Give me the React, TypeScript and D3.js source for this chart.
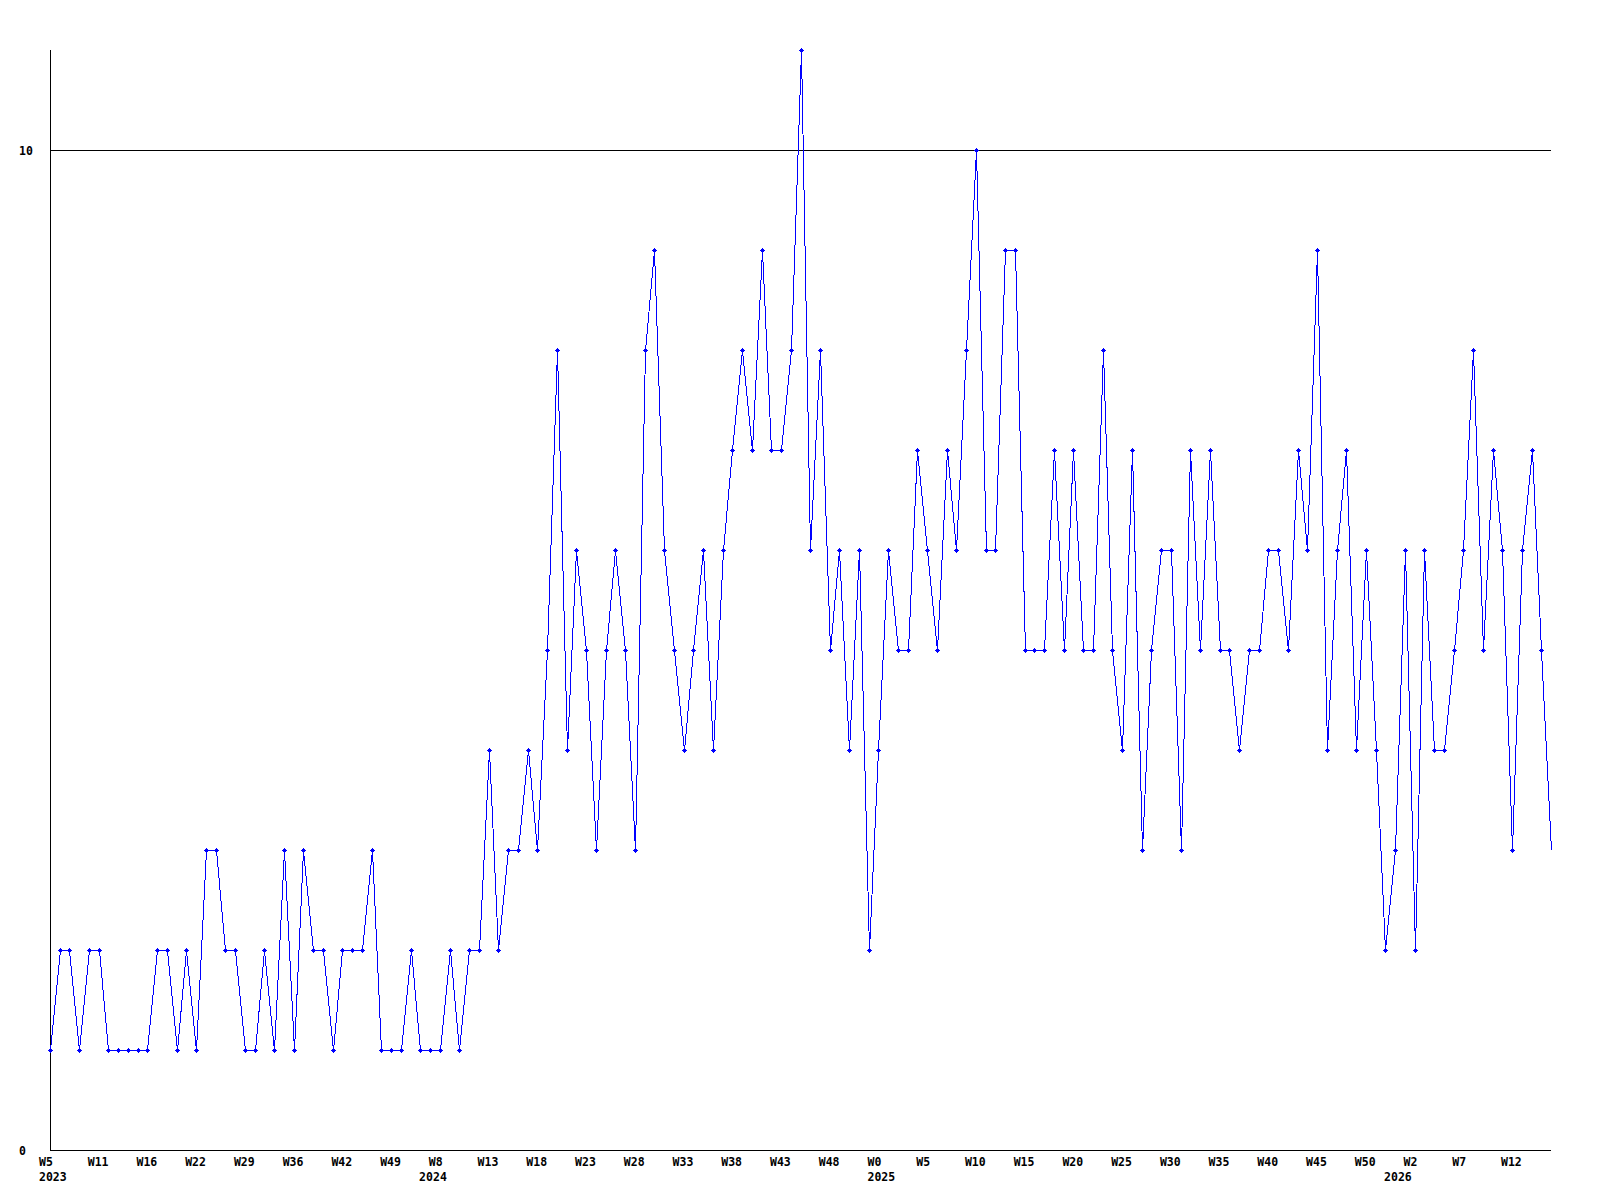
import React from "react";
import * as d3 from "d3";

const values: number[] = [
  1, 2, 2, 1, 2, 2, 1, 1, 1, 1,
  1, 2, 2, 1, 2, 1, 3, 3, 2, 2,
  1, 1, 2, 1, 3, 1, 3, 2, 2, 1,
  2, 2, 2, 3, 1, 1, 1, 2, 1, 1,
  1, 2, 1, 2, 2, 4, 2, 3, 3, 4,
  3, 5, 8, 4, 6, 5, 3, 5, 6, 5,
  3, 8, 9, 6, 5, 4, 5, 6, 4, 6,
  7, 8, 7, 9, 7, 7, 8, 11, 6, 8,
  5, 6, 4, 6, 2, 4, 6, 5, 5, 7,
  6, 5, 7, 6, 8, 10, 6, 6, 9, 9,
  5, 5, 5, 7, 5, 7, 5, 5, 8, 5,
  4, 7, 3, 5, 6, 6, 3, 7, 5, 7,
  5, 5, 4, 5, 5, 6, 6, 5, 7, 6,
  9, 4, 6, 7, 4, 6, 4, 2, 3, 6,
  2, 6, 4, 4, 5, 6, 8, 5, 7, 6,
  3, 6, 7, 5, 3,
];

const weekLabels: string[] = [
  "W5", "W11", "W16", "W22", "W29", "W36", "W42", "W49",
  "W8", "W13", "W18", "W23", "W28", "W33", "W38", "W43", "W48",
  "W0", "W5", "W10", "W15", "W20", "W25", "W30", "W35", "W40", "W45", "W50",
  "W2", "W7", "W12",
];
const weekLabelStep = 5;

const yearLabels: string[] = ["2023", "2024", "2025", "2026"];
const yearIndex: number[] = [0, 39, 85, 138];

const yTicks: number[] = [0, 10];
const gridValues: number[] = [10];

const W = 1600;
const H = 1200;
const left = 50;
const right = 1551;
const top = 50;
const bottom = 1150;
const FONT = "'DejaVu Sans Mono', 'Liberation Mono', monospace";
const BLUE = "#0000ff";

export default function App() {
  const idx = values.map((_, i) => i);
  const x = d3.scaleLinear().domain([0, values.length - 1]).range([left, right]);
  const y = d3.scaleLinear().domain([0, 11]).range([bottom, top]);

  const line = d3
    .line<number>()
    .x((d, i) => Math.round(x(i)) + 0.5)
    .y((d) => Math.round(y(d)) + 0.5);

  const marker =
    "M-2.5,-0.5h5v1h-5z M-0.5,-2.5h1v5h-1z M-1.5,-1.5h3v3h-3z";

  return (
    <svg
      width={W}
      height={H}
      viewBox={`0 0 ${W} ${H}`}
      style={{ position: "absolute", left: 0, top: 0, background: "#fff" }}
    >
      <rect x={0} y={0} width={W} height={H} fill="#fff" />
      {gridValues.map((g) => (
        <line
          key={"g" + g}
          x1={left}
          x2={right}
          y1={Math.round(y(g)) + 0.5}
          y2={Math.round(y(g)) + 0.5}
          stroke="#000"
          strokeWidth={1}
          shapeRendering="crispEdges"
        />
      ))}
      {/* axes */}
      <line
        x1={left + 0.5}
        x2={left + 0.5}
        y1={top}
        y2={bottom + 1}
        stroke="#000"
        strokeWidth={1}
        shapeRendering="crispEdges"
      />
      <line
        x1={left}
        x2={right}
        y1={bottom + 0.5}
        y2={bottom + 0.5}
        stroke="#000"
        strokeWidth={1}
        shapeRendering="crispEdges"
      />
      {yTicks.map((t) => (
        <text
          key={"yt" + t}
          x={19}
          y={Math.round(y(t)) + 4.5}
          fontFamily={FONT}
          fontWeight="bold"
          fontSize={11.5}
          fill="#000"
        >
          {t}
        </text>
      ))}
      {weekLabels.map((l, k) => (
        <text
          key={"wl" + k}
          x={x(k * weekLabelStep) - 11}
          y={1166}
          fontFamily={FONT}
          fontWeight="bold"
          fontSize={11.5}
          fill="#000"
        >
          {l}
        </text>
      ))}
      {yearLabels.map((l, k) => (
        <text
          key={"yl" + k}
          x={x(yearIndex[k]) - 11}
          y={1181}
          fontFamily={FONT}
          fontWeight="bold"
          fontSize={11.5}
          fill="#000"
        >
          {l}
        </text>
      ))}
      <path
        d={line(values) || ""}
        fill="none"
        stroke={BLUE}
        strokeWidth={1}
        shapeRendering="crispEdges"
      />
      {idx.slice(0, values.length - 1).map((i) => (
        <path
          key={"m" + i}
          d={marker}
          transform={`translate(${Math.round(x(i)) + 0.5},${Math.round(y(values[i])) + 0.5})`}
          fill={BLUE}
          shapeRendering="crispEdges"
        />
      ))}
    </svg>
  );
}
